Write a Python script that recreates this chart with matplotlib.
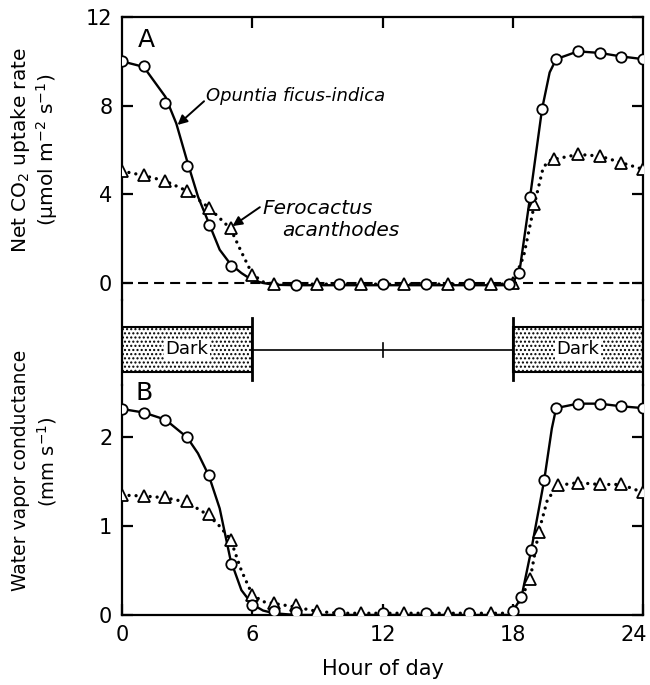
import matplotlib
matplotlib.use('Agg')
import matplotlib.pyplot as plt
import matplotlib.transforms as mtransforms
from matplotlib.patches import Rectangle

# ---------------- data ----------------
x_ticks = [0, 6, 12, 18, 24]
a_yticks = [0, 4, 8, 12]
b_yticks = [0, 1, 2]
dark_periods = [(0, 6), (18, 24)]

# Panel A: net CO2 uptake (umol m-2 s-1)
a_opu_x = [0, 1, 2, 3, 4, 5, 8, 10, 12, 14, 16, 17.85, 18.3, 18.8, 19.35, 20, 21, 22, 23, 24]
a_opu_y = [10.0, 9.8, 8.1, 5.3, 2.6, 0.75, -0.08, -0.05, -0.05, -0.05, -0.05, -0.05, 0.45, 3.9, 7.85, 10.1, 10.45, 10.38, 10.2, 10.1]
a_fero_x = [0, 1, 2, 3, 4, 5, 6, 7, 9, 11, 13, 15, 17, 18, 19, 19.9, 21, 22, 23, 24]
a_fero_y = [5.05, 4.85, 4.6, 4.15, 3.38, 2.47, 0.36, -0.05, -0.05, -0.05, -0.05, -0.05, -0.05, 0.0, 3.56, 5.58, 5.8, 5.73, 5.43, 5.13]
# fitted curves
a_opu_cx = [0, 1, 2, 2.5, 3, 3.5, 4, 4.5, 5, 5.5, 6, 6.5, 7, 8, 17.6, 18, 18.3, 18.8, 19.35, 19.7, 20, 21, 22, 23, 24]
a_opu_cy = [10.0, 9.75, 8.4, 7.2, 5.5, 3.9, 2.7, 1.5, 0.85, 0.45, 0.13, 0.0, -0.08, -0.1, -0.1, 0.05, 0.45, 3.9, 7.85, 9.5, 10.1, 10.45, 10.38, 10.22, 10.1]
a_fero_cx = [0, 1, 2, 3, 4, 5, 5.5, 6, 6.5, 7, 17.5, 18, 18.5, 19, 19.4, 19.65, 19.9, 21, 22, 23, 24]
a_fero_cy = [5.05, 4.85, 4.6, 4.15, 3.4, 2.45, 1.4, 0.4, 0.05, -0.05, -0.05, 0.0, 1.2, 3.56, 5.2, 5.5, 5.58, 5.8, 5.73, 5.43, 5.13]

# Panel B: water vapor conductance (mm s-1)
b_opu_x = [0, 1, 2, 3, 4, 5, 6, 7, 8, 10, 12, 14, 16, 18.0, 18.4, 18.85, 19.45, 20, 21, 22, 23, 24]
b_opu_y = [2.32, 2.28, 2.2, 2.0, 1.58, 0.57, 0.11, 0.04, 0.03, 0.02, 0.02, 0.02, 0.02, 0.05, 0.2, 0.73, 1.52, 2.33, 2.38, 2.38, 2.35, 2.33]
b_fero_x = [0, 1, 2, 3, 4, 5, 6, 7, 8, 9, 11, 13, 15, 17, 18.8, 19.2, 20.1, 21, 22, 23, 24]
b_fero_y = [1.35, 1.34, 1.33, 1.28, 1.14, 0.85, 0.23, 0.14, 0.11, 0.04, 0.02, 0.02, 0.02, 0.02, 0.4, 0.94, 1.46, 1.49, 1.47, 1.47, 1.38]
b_opu_cx = [0, 1, 2, 3, 3.5, 4, 4.5, 5, 5.5, 6, 6.5, 7, 8, 17.8, 18, 18.4, 18.85, 19.45, 19.8, 20, 21, 22, 23, 24]
b_opu_cy = [2.32, 2.28, 2.2, 2.0, 1.82, 1.57, 1.2, 0.62, 0.28, 0.12, 0.05, 0.02, 0.0, 0.0, 0.04, 0.2, 0.73, 1.52, 2.1, 2.33, 2.38, 2.38, 2.35, 2.33]
b_fero_cx = [0, 1, 2, 3, 4, 4.5, 5, 5.5, 6, 6.5, 7, 8, 9, 10, 17.8, 18.3, 18.8, 19.2, 19.6, 20.1, 21, 22, 23, 24]
b_fero_cy = [1.35, 1.34, 1.32, 1.27, 1.12, 1.0, 0.85, 0.5, 0.23, 0.15, 0.13, 0.09, 0.04, 0.02, 0.02, 0.15, 0.4, 0.94, 1.3, 1.46, 1.49, 1.47, 1.47, 1.38]

# ---------------- style ----------------
plt.rcParams['font.family'] = ['DejaVu Sans']
plt.rcParams['mathtext.default'] = 'regular'
plt.rcParams['hatch.linewidth'] = 1.0
LW_SPINE = 1.6
solid_kw = dict(color='black', lw=1.7, solid_capstyle='round', zorder=2)
dot_kw = dict(color='black', lw=2.4, linestyle=(0, (0.01, 2.1)), dash_capstyle='round', zorder=2)
circ_kw = dict(linestyle='none', marker='o', ms=7.5, mfc='white', mec='black', mew=1.3, zorder=4)
tri_kw = dict(linestyle='none', marker='^', ms=8, mfc='white', mec='black', mew=1.3, zorder=3)

fig = plt.figure(figsize=(6.5, 6.85), dpi=100)
L, W = 122 / 650, 521 / 650
axA = fig.add_axes([L, 1 - 300 / 685, W, 283 / 685])
axBar = fig.add_axes([L, 1 - 385 / 685, W, 85 / 685])
axB = fig.add_axes([L, 1 - 615 / 685, W, 230 / 685])

for ax in (axA, axBar, axB):
    ax.set_xlim(0, 24)
    for s in ax.spines.values():
        s.set_linewidth(LW_SPINE)
    ax.patch.set_alpha(0)

# ---- Panel A ----
axA.set_ylim(-0.767, 12)
axA.spines['bottom'].set_visible(False)
axA.axhline(0, color='black', lw=1.5, linestyle=(0, (4.8, 2.9)), zorder=1)
axA.plot(a_opu_cx, a_opu_cy, **solid_kw)
axA.plot(a_fero_cx, a_fero_cy, **dot_kw)
axA.plot(a_fero_x, a_fero_y, **tri_kw)
axA.plot(a_opu_x, a_opu_y, **circ_kw)
axA.set_yticks(a_yticks)
axA.set_xticks([6, 12, 18])
axA.tick_params(axis='y', direction='in', left=True, right=True, length=8, width=LW_SPINE,
                labelsize=15, pad=7)
axA.tick_params(axis='x', direction='in', top=True, bottom=False, labelbottom=False,
                length=8, width=LW_SPINE)
axA.text(0.72, 10.95, 'A', fontsize=18, va='center', ha='left')
axA.text(3.85, 8.45, 'Opuntia ficus-indica', fontsize=13, style='italic', va='center', ha='left')
axA.annotate('', xy=(2.56, 7.13), xytext=(3.78, 8.2),
             arrowprops=dict(arrowstyle='-|>', color='black', lw=1.4, mutation_scale=14, shrinkA=0, shrinkB=0))
axA.text(6.45, 3.38, 'Ferocactus', fontsize=14.5, style='italic', va='center', ha='left')
axA.text(7.4, 2.39, 'acanthodes', fontsize=14.5, style='italic', va='center', ha='left')
axA.annotate('', xy=(5.09, 2.57), xytext=(6.35, 3.42),
             arrowprops=dict(arrowstyle='-|>', color='black', lw=1.4, mutation_scale=14, shrinkA=0, shrinkB=0))

# ---- light / dark bar ----
axBar.set_ylim(0, 1)
axBar.spines['top'].set_visible(False)
axBar.spines['bottom'].set_visible(False)
axBar.set_xticks([])
axBar.set_yticks([])
for (s, e) in dark_periods:
    axBar.add_patch(Rectangle((s, 0.156), e - s, 0.53, facecolor='white', edgecolor='black',
                              hatch='....', lw=1.5, zorder=2))
    axBar.text((s + e) / 2, 0.42, 'Dark', fontsize=13, ha='center', va='center', zorder=3,
               bbox=dict(facecolor='white', edgecolor='none', pad=1.0))
light_start, light_end = dark_periods[0][1], dark_periods[1][0]
for xv in (light_start, light_end):
    axBar.plot([xv, xv], [0.06, 0.79], color='black', lw=2.0, zorder=3)
axBar.plot([light_start, light_end], [0.41, 0.41], color='black', lw=1.2, zorder=1)
axBar.plot([12, 12], [0.33, 0.5], color='black', lw=1.2, zorder=1)

# ---- Panel B ----
axB.set_ylim(0, 2.59)
axB.spines['top'].set_visible(False)
axB.plot(b_opu_cx, b_opu_cy, **solid_kw)
axB.plot(b_fero_cx, b_fero_cy, **dot_kw)
axB.plot(b_fero_x, b_fero_y, **tri_kw)
axB.plot(b_opu_x, b_opu_y, **circ_kw)
axB.set_yticks(b_yticks)
axB.set_xticks(x_ticks)
axB.tick_params(axis='y', direction='in', left=True, right=True, length=8, width=LW_SPINE,
                labelsize=15, pad=7)
axB.tick_params(axis='x', direction='in', top=False, bottom=True, length=8, width=LW_SPINE,
                labelsize=15, pad=7)
last = axB.get_xticklabels()[-1]
last.set_transform(last.get_transform() + mtransforms.ScaledTranslation(-9 / 100, 0, fig.dpi_scale_trans))
axB.text(0.64, 2.5, 'B', fontsize=18, va='center', ha='left')
axB.set_xlabel('Hour of day', fontsize=15, labelpad=10)

# ---- y labels ----
fig.text(21 / 650, 1 - 150 / 685, 'Net CO$_2$ uptake rate', rotation=90, fontsize=14.5,
         ha='center', va='center')
fig.text(47 / 650, 1 - 150 / 685, '(μmol m$^{-2}$ s$^{-1}$)', rotation=90, fontsize=14.5,
         ha='center', va='center')
fig.text(21 / 650, 1 - 470 / 685, 'Water vapor conductance', rotation=90, fontsize=13.5,
         ha='center', va='center')
fig.text(47 / 650, 1 - 462 / 685, '(mm s$^{-1}$)', rotation=90, fontsize=14,
         ha='center', va='center')

fig.savefig('out.png', dpi=100)
